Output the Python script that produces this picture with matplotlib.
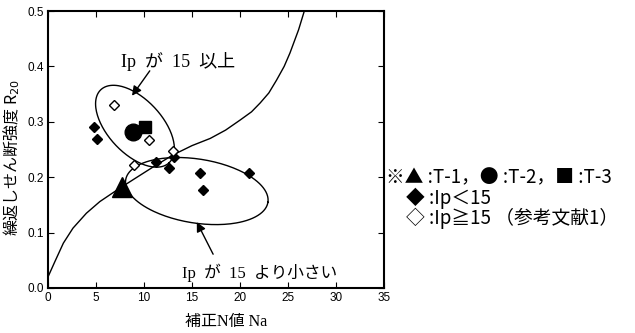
import numpy as np
import matplotlib
matplotlib.use("Agg")
import matplotlib.pyplot as plt

plt.rcParams['font.family'] = ['Noto Sans CJK JP', 'DejaVu Sans']
MIX = ['Liberation Serif', 'Noto Sans CJK JP']   # serif latin, CJK fallback

# ---- data ----
t1_x = [7.7]
t1_y = [0.182]
t2_x = [8.9]
t2_y = [0.282]
t3_x = [10.1]
t3_y = [0.290]

# Ip < 15 (filled diamonds)
lt15_x = [4.8, 5.1, 11.3, 12.6, 13.1, 15.8, 16.1, 20.9]
lt15_y = [0.291, 0.269, 0.227, 0.217, 0.237, 0.207, 0.176, 0.207]

# Ip >= 15 (open diamonds, reference 1)
ge15_x = [6.9, 10.5, 13.05, 9.0]
ge15_y = [0.331, 0.268, 0.248, 0.222]

# boundary curve
curve_x = [0.0, 0.7, 1.6, 2.6, 4.0, 5.4, 7.2, 9.0, 11.0, 13.0, 15.0, 16.9, 18.5, 20.0,
           21.2, 22.1, 23.0, 23.8, 24.6, 25.2, 26.1, 26.7]
curve_y = [0.020, 0.047, 0.081, 0.108, 0.135, 0.156, 0.177, 0.197, 0.219, 0.240, 0.257, 0.270,
           0.285, 0.303, 0.318, 0.334, 0.352, 0.375, 0.400, 0.424, 0.466, 0.500]

x_ticks = [0, 5, 10, 15, 20, 25, 30, 35]
y_ticks = [0.0, 0.1, 0.2, 0.3, 0.4, 0.5]

# ---- figure ----
fig = plt.figure(figsize=(6.35, 3.33), dpi=100)
ax_w, ax_h = 336, 277
ax = fig.add_axes([48 / 635, 45 / 333, ax_w / 635, ax_h / 333])
ax.set_xlim(0, 35)
ax.set_ylim(0, 0.5)

px_x = ax_w / 35.0   # pixels per x unit
px_y = ax_h / 0.5    # pixels per y unit


def ellipse(cx, cy, a, b, ang):
    # a, b in pixels, angle in degrees (screen, y up)
    t = np.linspace(0, 2 * np.pi, 200)
    th = np.radians(ang)
    u = a * np.cos(t)
    v = b * np.sin(t)
    dx = u * np.cos(th) - v * np.sin(th)
    dy = u * np.sin(th) + v * np.cos(th)
    return cx + dx / px_x, cy + dy / px_y


ax.plot(curve_x, curve_y, color='black', lw=1.0)

ex, ey = ellipse(9.06, 0.292, 50, 27, -47)
ax.plot(ex, ey, color='black', lw=1.0)
ex, ey = ellipse(15.5, 0.175, 72, 32, -9)
ax.plot(ex, ey, color='black', lw=1.0)

ax.plot(lt15_x, lt15_y, 'D', color='black', ms=5.5, ls='none')
ax.plot(t2_x, t2_y, 'o', color='black', ms=12, ls='none')
ax.plot(t3_x, t3_y, 's', color='black', ms=9, ls='none')
ax.plot(ge15_x, ge15_y, 'D', mfc='white', mec='black', mew=1.0, ms=5.5, ls='none')
ax.plot(t1_x, t1_y, '^', color='black', ms=14, ls='none')

# annotations
ax.annotate('', xy=(8.75, 0.347), xytext=(10.6, 0.392),
            arrowprops=dict(arrowstyle='-|>', color='black', lw=1.0,
                            mutation_scale=14, shrinkA=0, shrinkB=0))
ax.text(13.5, 0.408, 'Ip  が  15  以上', ha='center', va='center', fontsize=13, family=MIX)

ax.annotate('', xy=(15.5, 0.119), xytext=(17.2, 0.061),
            arrowprops=dict(arrowstyle='-|>', color='black', lw=1.0,
                            mutation_scale=14, shrinkA=0, shrinkB=0))
ax.text(22.0, 0.027, 'Ip  が  15  より小さい', ha='center', va='center', fontsize=12, family=MIX)

# axes styling
ax.set_xticks(x_ticks)
ax.set_yticks(y_ticks)
ax.set_yticklabels(['0.0', '0.1', '0.2', '0.3', '0.4', '0.5'])
ax.tick_params(direction='in', length=4, top=True, right=True, labelsize=8.5, pad=3)
for lab in ax.get_xticklabels() + ax.get_yticklabels():
    lab.set_family(['Liberation Sans', 'DejaVu Sans'])
for sp in ax.spines.values():
    sp.set_linewidth(1.5)

ax.set_xlabel('補正N値 Na', fontsize=11.5, labelpad=7, family=MIX, x=0.53)
ax.set_ylabel('繰返しせん断強度 R$_{20}$', fontsize=11.5, labelpad=4, y=0.473)

# side legend (text)
fig.text(386 / 635, (333 - 178) / 333, '※▲ :T-1，● :T-2，■ :T-3', fontsize=13.5, va='center',
         family=['Noto Sans CJK JP'])
fig.text(406 / 635, (333 - 198) / 333, '◆ :Ip＜15', fontsize=13.5, va='center',
         family=['Noto Sans CJK JP'])
fig.text(406 / 635, (333 - 218) / 333, '◇ :Ip≧15 （参考文献1）', fontsize=13.5, va='center',
         family=['Noto Sans CJK JP'])

fig.savefig('out.png', dpi=100)
plt.close(fig)
